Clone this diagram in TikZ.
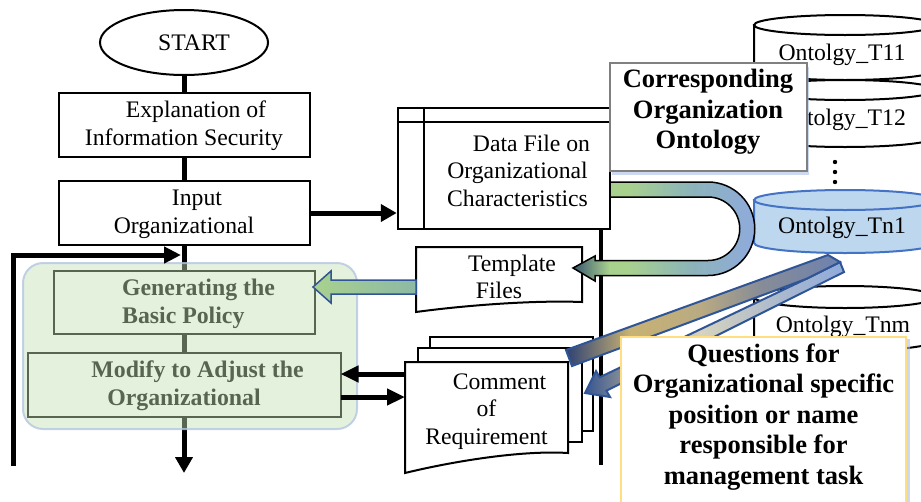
\documentclass[tikz,border=0pt]{standalone}
\usepackage{fontspec}
\setmainfont{Liberation Serif}
\usetikzlibrary{arrows.meta,shapes.geometric,shadows}
\definecolor{udark}{RGB}{55,85,110}
\definecolor{ugreen}{RGB}{169,209,142}
\definecolor{umid}{RGB}{140,180,185}
\definecolor{ublue}{RGB}{143,170,220}
\definecolor{hn}{RGB}{45,65,115}
\definecolor{ht}{RGB}{200,178,115}
\definecolor{hs}{RGB}{185,170,130}
\definecolor{hg}{RGB}{135,140,150}
\definecolor{hb}{RGB}{110,130,175}
\definecolor{ln}{RGB}{55,85,145}
\definecolor{lm}{RGB}{140,145,150}
\definecolor{lbe}{RGB}{215,212,190}
\definecolor{lc}{RGB}{170,185,205}
\definecolor{lb}{RGB}{143,170,220}
\definecolor{cylfill}{RGB}{189,215,238}
\definecolor{cylborder}{RGB}{68,114,196}
\definecolor{arrowborder}{RGB}{47,85,151}
\definecolor{grpfill}{RGB}{196,224,180}
\definecolor{grpborder}{RGB}{180,199,225}
\definecolor{shadowblue}{RGB}{170,192,230}
\definecolor{qborder}{RGB}{255,222,130}
\definecolor{tplgreen}{RGB}{140,185,165}
\pgfdeclarehorizontalshading{ushade}{100bp}{color(0bp)=(udark); color(25bp)=(udark); color(35bp)=(ugreen); color(40bp)=(ugreen); color(57bp)=(umid); color(75bp)=(ublue); color(100bp)=(ublue)}
\pgfdeclarehorizontalshading{hupper}{100bp}{color(0bp)=(hn); color(25bp)=(hn); color(36.7bp)=(ht); color(49.5bp)=(hs); color(60.4bp)=(hg); color(75bp)=(hb); color(100bp)=(hb)}
\pgfdeclarehorizontalshading{hlower}{100bp}{color(0bp)=(ln); color(25bp)=(ln); color(32.7bp)=(lm); color(47.2bp)=(lbe); color(62.6bp)=(lc); color(75bp)=(lb); color(100bp)=(lb)}
\newcommand\myreg{\fontsize{23.7pt}{27.5pt}\selectfont}
\newcommand\mybig{\fontsize{26.5pt}{30.5pt}\selectfont\bfseries}
\newcommand\mygrn{\fontsize{23.8pt}{28pt}\selectfont\bfseries}
\newcommand\myta{\rule{0pt}{21pt}}
\newcommand\mytb{\rule[-8pt]{0pt}{8pt}}
\newcommand\mycyl[6]{%
 \path[#6] ({#1-#4},#2) -- ({#1-#4},#3) .. controls ({#1-#4},{#3+0.5523*#5}) and ({#1-0.5523*#4},{#3+#5}) .. (#1,{#3+#5}) .. controls ({#1+0.5523*#4},{#3+#5}) and ({#1+#4},{#3+0.5523*#5}) .. ({#1+#4},#3) -- ({#1+#4},#2) -- cycle;
 \path[#6] (#1,#2) ellipse [x radius=#4, y radius=#5];}
\begin{document}
\begin{tikzpicture}[x=1pt,y=-1pt,
 box/.style={draw, line width=2pt, fill=white, inner sep=0pt, outer sep=0pt, align=center, font=\myreg},
 txt/.style={inner sep=0pt, outer sep=0pt, align=center, font=\myreg},
 cyltxt/.style={inner sep=0pt, outer sep=0pt, font=\myreg, execute at begin node=\strut},
 bigtxt/.style={txt, font=\mybig},
 flow/.style={line width=5pt},
 flowarrow/.style={line width=5pt, -{Triangle[length=16pt,width=17pt]}},
 sidearrow/.style={line width=5pt, -{Triangle[length=18pt,width=16pt]}},
 cylst/.style={draw, line width=2pt, fill=white},
 cylblue/.style={draw=cylborder, line width=2pt, fill=cylfill},
 docst/.style={draw, line width=2pt, fill=white},
]
\useasboundingbox (0,0) rectangle (921,501);
\clip (0,0) rectangle (921,501);

% ontology cylinders
\mycyl{845}{25}{70}{91}{10}{cylst}
\node[cyltxt] (t11) at (842,54.5) {Ontolgy\_T11};
\mycyl{845}{90}{137}{91}{10}{cylst}
\node[cyltxt] (t12) at (842,119.5) {Ontolgy\_T12};
\fill (835,162) circle[radius=2.2];
\fill (835,172) circle[radius=2.2];
\fill (835,182) circle[radius=2.2];
\mycyl{845}{200}{243}{91}{10}{cylblue}
\node[cyltxt] (tn1) at (842,228) {Ontolgy\_Tn1};
\mycyl{845}{297}{340}{91}{11}{cylst}
\node[cyltxt] (tnm) at (843,327) {Ontolgy\_Tnm};

% data file (internal storage)
\node[draw, line width=2.5pt, fill=white, minimum width=212pt, minimum height=121pt, inner sep=0pt] (df) at (504,168.5) {};
\draw[line width=2.5pt] ([xshift=27pt]df.north west) -- ([xshift=27pt]df.south west);
\draw[line width=2.5pt] ([yshift=-15pt]df.north west) -- ([yshift=-15pt]df.north east);
\node[txt] (dftext) at (517.5,172) {\myta\hspace*{28pt}Data File on\\Organizational\\Characteristics\mytb};
\coordinate (dfend) at (601,465);
\draw[line width=4.5pt] (dfend |- df.south) -- (dfend);

% left flow chart
\node[draw, ellipse, line width=2pt, fill=white, minimum width=168pt, minimum height=65pt, inner sep=0pt, font=\myreg] (start) at (184,42.5) {\hspace*{20pt}START};
\node[box, minimum width=251pt, minimum height=64pt] (expl) at (184,125) {\myta\hspace*{24pt}Explanation of\\Information Security\mytb};
\node[box, minimum width=251pt, minimum height=64pt] (inp) at (184,213) {\myta\hspace*{26pt}Input\\Organizational\mytb};
\node[box, font=\mygrn, align=left, minimum width=261pt, minimum height=63pt] (gen) at (184,302.5) {\myta\hspace*{29pt}Generating the\\\hspace*{29pt}Basic Policy\mytb};
\node[box, font=\mygrn, minimum width=313pt, minimum height=64pt] (mod) at (184,385) {\myta\hspace*{27pt}Modify to Adjust the\\Organizational\mytb};
\coordinate (flowend) at (184,473);
\draw[flow] (start.south) -- (expl.north);
\draw[flow] (expl.south) -- (inp.north);
\draw[flow] (inp.south) -- (gen.north);
\draw[flow] (gen.south) -- (mod.north);
\draw[flowarrow] (mod.south) -- (flowend);

% green group overlay
\node[fill=grpfill, fill opacity=0.45, draw=grpborder, draw opacity=0.8, line width=2pt, rounded corners=20pt, minimum width=334pt, minimum height=166pt, inner sep=0pt] (grp) at (190,346) {};

% feedback and input arrows
\coordinate (fbstart) at (13,466);
\coordinate (fbend) at (181,255);
\draw[line width=5pt, -{Triangle[length=17pt,width=16pt]}] (fbstart) |- (fbend);
\draw[flowarrow] (inp.east) -- (inp.east -| df.west);

% template document
\path[docst] (416,247) -- (582,247) -- (582,302) .. controls (530,300) and (460,306) .. (416,312) -- cycle;
\node[txt, minimum width=166pt] (tpl) at (499,278.5) {\myta\hspace*{26pt}Template\\Files\mytb};

% template -> generating block arrow
\path[draw=arrowborder, line width=1.5pt, left color=ugreen, right color=tplgreen] (416,280) -- (331,280) -- (331,271) -- (313,287) -- (331,303) -- (331,294) -- (416,294) -- cycle;

% comment multi-document
\path[docst] (430,337) rectangle (593,431);
\path[docst] (418,348) rectangle (582,442);
\path[docst] (405,362) -- (568,362) -- (568,453) .. controls (520,450) and (450,462) .. (405,473) -- cycle;
\node[txt, minimum width=163pt] (cmt) at (486.5,410) {\myta\hspace*{26pt}Comment\\of\\Requirement\mytb};

\coordinate (ma) at ([yshift=11pt]mod.east);
\coordinate (mb) at ([yshift=-12pt]mod.east);
\draw[sidearrow] (ma -| cmt.west) -- (ma);
\draw[sidearrow] (mb) -- (mb -| cmt.west);

% U-shaped arrow from data file to template
\path[draw=black, line width=1.5pt, shade, shading=ushade]
 (610,182) -- (708,182)
 .. controls (733.8,182) and (754.75,202.9) .. (754.75,228.75)
 .. controls (754.75,254.6) and (733.8,275.5) .. (708,275.5)
 -- (595,275.5) -- (595,281) -- (573,268) -- (595,256) -- (595,260.5) -- (708,260.5)
 .. controls (725.5,260.5) and (739.75,246.3) .. (739.75,228.75)
 .. controls (739.75,211.2) and (725.5,197) .. (708,197)
 -- (610,197) -- cycle;

% hairpin arrow from ontology
\path[draw=arrowborder, line width=2pt, shade, shading=hlower]
 (806,279) -- (840,262) -- (844,272) -- (606.4,390.7) -- (610,397) -- (585,393) -- (596,371) -- (599.6,377.3) -- cycle;
\path[draw=arrowborder, line width=2pt, shade, shading=hupper]
 (566,350) -- (828,255) -- (840,262) -- (806,279) -- (572,366) -- cycle;

% callout boxes
\node[draw=gray, line width=1.5pt, fill=white, minimum width=197pt, minimum height=108pt, inner sep=0pt,
 drop shadow={shadow xshift=2pt, shadow yshift=-4pt, fill=shadowblue, opacity=0.6}] (corr) at (708.5,117) {};
\node[bigtxt] (corrtext) at (708,111.5) {\myta Corresponding\\Organization\\Ontology\mytb};
\node[draw=qborder, line width=1.5pt, fill=white, minimum width=285pt, minimum height=193pt, inner sep=0pt,
 drop shadow={shadow xshift=4pt, shadow yshift=-2pt, fill=shadowblue, opacity=0.6}] (qbox) at (763.5,433.5) {};
\node[bigtxt] (qtext) at (763.5,416.5) {\myta Questions for\\Organizational specific\\position or name\\responsible for\\management task\mytb};
\end{tikzpicture}
\end{document}
